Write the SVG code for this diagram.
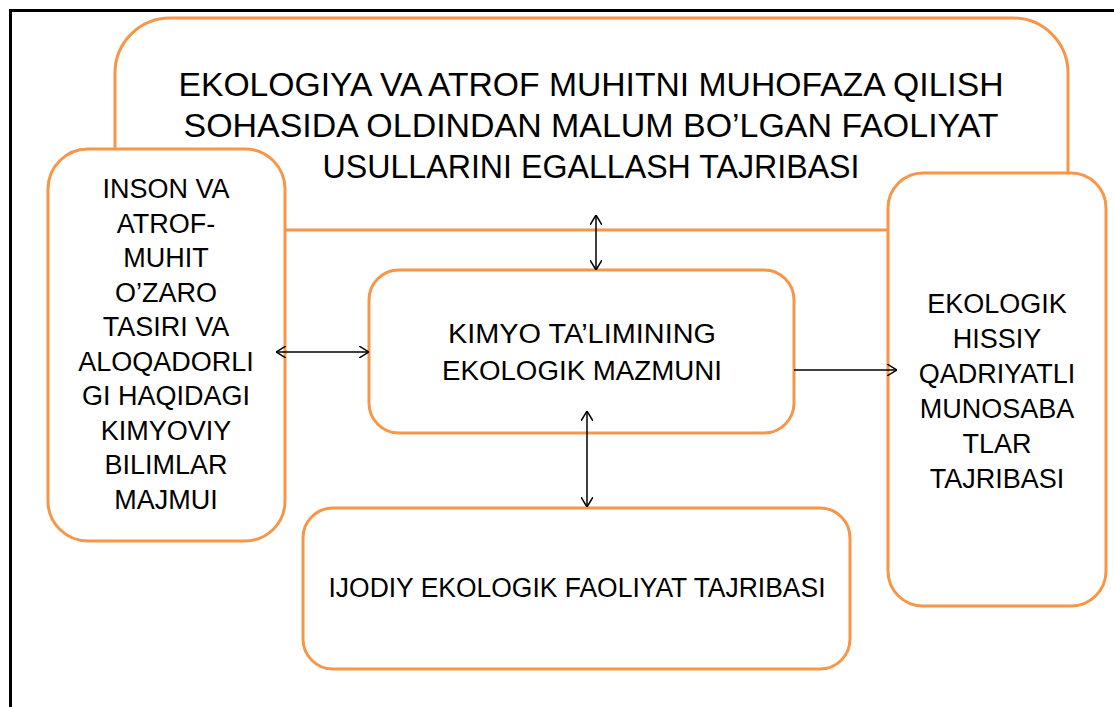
<svg xmlns="http://www.w3.org/2000/svg" width="1114" height="707" viewBox="0 0 1114 707">
  <defs>
    <style>
      .box { fill: #ffffff; stroke: #F79646; stroke-width: 3; }
      .txt { font-family: "Liberation Sans", Arial, sans-serif; fill: #000000; text-anchor: middle; }
      .s { font-size: 27px; }
      .l { font-size: 33px; }
      .conn { stroke: #000000; stroke-width: 1.5; fill: none; }
    </style>
    <marker id="arr" viewBox="0 0 10 12" refX="10" refY="6" markerWidth="10" markerHeight="12" markerUnits="userSpaceOnUse" orient="auto-start-reverse">
      <path d="M0,0 L10,6 L0,12" fill="none" stroke="#000000" stroke-width="1.5"/>
    </marker>
  </defs>
  <rect width="1114" height="707" fill="#ffffff"/>
  <path d="M10.5,720 V10.5 H1120" fill="none" stroke="#000000" stroke-width="3"/>

  <g id="top-node">
    <rect class="box" x="115" y="18" width="953" height="212" rx="55" ry="55"/>
    <text class="txt l" x="591" y="96" textLength="825" lengthAdjust="spacingAndGlyphs">EKOLOGIYA VA ATROF MUHITNI MUHOFAZA QILISH</text>
    <text class="txt l" x="591" y="137" textLength="815" lengthAdjust="spacingAndGlyphs">SOHASIDA OLDINDAN MALUM BO’LGAN FAOLIYAT</text>
    <text class="txt l" x="591" y="178" textLength="537" lengthAdjust="spacingAndGlyphs">USULLARINI EGALLASH TAJRIBASI</text>
  </g>

  <g id="left-node">
    <rect class="box" x="48" y="149" width="237" height="392" rx="40" ry="40"/>
    <text class="txt s" x="166" y="198">INSON VA</text>
    <text class="txt s" x="166" y="233">ATROF-</text>
    <text class="txt s" x="166" y="267">MUHIT</text>
    <text class="txt s" x="166" y="302">O’ZARO</text>
    <text class="txt s" x="166" y="336">TASIRI VA</text>
    <text class="txt s" x="166" y="371">ALOQADORLI</text>
    <text class="txt s" x="166" y="405">GI HAQIDAGI</text>
    <text class="txt s" x="166" y="440">KIMYOVIY</text>
    <text class="txt s" x="166" y="474">BILIMLAR</text>
    <text class="txt s" x="166" y="509">MAJMUI</text>
  </g>

  <g id="right-node">
    <rect class="box" x="888" y="173" width="218" height="433" rx="35" ry="35"/>
    <text class="txt s" x="997" y="313">EKOLOGIK</text>
    <text class="txt s" x="997" y="348">HISSIY</text>
    <text class="txt s" x="997" y="383">QADRIYATLI</text>
    <text class="txt s" x="997" y="418">MUNOSABA</text>
    <text class="txt s" x="997" y="453">TLAR</text>
    <text class="txt s" x="997" y="488">TAJRIBASI</text>
  </g>

  <g id="center-node">
    <rect class="box" x="369" y="270" width="425" height="163" rx="30" ry="30"/>
    <text class="txt s" x="582" y="343" textLength="268" lengthAdjust="spacingAndGlyphs">KIMYO TA’LIMINING</text>
    <text class="txt s" x="582" y="380" textLength="280" lengthAdjust="spacingAndGlyphs">EKOLOGIK MAZMUNI</text>
  </g>

  <g id="bottom-node">
    <rect class="box" x="303" y="508" width="547" height="161" rx="30" ry="30"/>
    <text class="txt s" x="577" y="597" textLength="497" lengthAdjust="spacingAndGlyphs">IJODIY EKOLOGIK FAOLIYAT TAJRIBASI</text>
  </g>

  <g id="connectors">
    <line class="conn" x1="596" y1="215" x2="596" y2="270" marker-start="url(#arr)" marker-end="url(#arr)"/>
    <line class="conn" x1="276" y1="352" x2="369" y2="352" marker-start="url(#arr)" marker-end="url(#arr)"/>
    <line class="conn" x1="794" y1="370" x2="897" y2="370" marker-end="url(#arr)"/>
    <line class="conn" x1="587" y1="411" x2="587" y2="507" marker-start="url(#arr)" marker-end="url(#arr)"/>
  </g>
</svg>
